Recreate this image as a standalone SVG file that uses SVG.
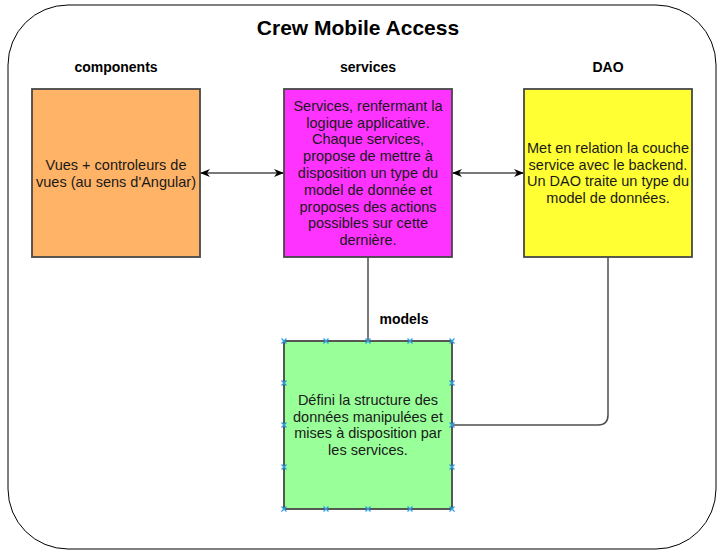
<svg xmlns="http://www.w3.org/2000/svg" width="728" height="556" viewBox="0 0 728 556">
  <style>
    .box { stroke: #474747; stroke-width: 1.8; }
    .txt { font-family: "Liberation Sans", Arial, sans-serif; font-size: 14.5px; fill: #1a1a1a; text-anchor: middle; }
    .hdr { font-family: "Liberation Sans", Arial, sans-serif; font-size: 14px; font-weight: bold; fill: #000; text-anchor: middle; }
    .title { font-family: "Liberation Sans", Arial, sans-serif; font-size: 21px; font-weight: bold; fill: #000; text-anchor: middle; }
    .conn { stroke: #4d4d4d; stroke-width: 1.5; fill: none; }
    .pt { stroke: #2f9fe8; stroke-width: 1.3; fill: none; }
  </style>
  <defs>
    <marker id="arr" viewBox="0 0 10 8" refX="10" refY="4" markerWidth="10" markerHeight="8" markerUnits="userSpaceOnUse" orient="auto-start-reverse">
      <path d="M0,0 L10,4 L0,8 L3,4 Z" fill="#000"/>
    </marker>
    <path id="x" d="M-2.5,-2.5 L2.5,2.5 M-2.5,2.5 L2.5,-2.5"/>
  </defs>
  <rect width="728" height="556" fill="#fff"/>
  <g id="container">
    <rect x="8" y="5" width="708" height="544" rx="60" ry="60" fill="#fff" stroke="#000" stroke-width="1"/>
    <text class="title" x="358" y="35">Crew Mobile Access</text>
  </g>
  <g id="connectors">
    <line class="conn" x1="200" y1="173" x2="284" y2="173" marker-start="url(#arr)" marker-end="url(#arr)"/>
    <line class="conn" x1="452" y1="173" x2="524" y2="173" marker-start="url(#arr)" marker-end="url(#arr)"/>
    <line class="conn" x1="368" y1="257" x2="368" y2="341"/>
    <path class="conn" d="M608,257 L608,415 Q608,425 598,425 L452,425"/>
  </g>
  <g id="components">
    <text class="hdr" x="116" y="72">components</text>
    <rect class="box" x="32" y="89" width="168" height="168" fill="#ffb366"/>
    <text class="txt" x="116" y="170">Vues + controleurs de</text>
    <text class="txt" x="116" y="187">vues (au sens d'Angular)</text>
  </g>
  <g id="services">
    <text class="hdr" x="368" y="72">services</text>
    <rect class="box" x="284" y="89" width="168" height="168" fill="#ff33ff"/>
    <text class="txt" x="368" y="110.8">Services, renfermant la</text>
    <text class="txt" x="368" y="127.6">logique applicative.</text>
    <text class="txt" x="368" y="144.4">Chaque services,</text>
    <text class="txt" x="368" y="161.2">propose de mettre à</text>
    <text class="txt" x="368" y="178">disposition un type du</text>
    <text class="txt" x="368" y="194.8">model de donnée et</text>
    <text class="txt" x="368" y="211.6">proposes des actions</text>
    <text class="txt" x="368" y="228.4">possibles sur cette</text>
    <text class="txt" x="368" y="245.2">dernière.</text>
  </g>
  <g id="dao">
    <text class="hdr" x="608" y="72">DAO</text>
    <rect class="box" x="524" y="89" width="168" height="168" fill="#ffff33"/>
    <text class="txt" x="608" y="152.8">Met en relation la couche</text>
    <text class="txt" x="608" y="169.6">service avec le backend.</text>
    <text class="txt" x="608" y="186.4">Un DAO traite un type du</text>
    <text class="txt" x="608" y="203.2">model de données.</text>
  </g>
  <g id="models">
    <text class="hdr" x="404" y="324">models</text>
    <rect class="box" x="284" y="341" width="168" height="168" fill="#99ff99"/>
    <text class="txt" x="368" y="404.8">Défini la structure des</text>
    <text class="txt" x="368" y="421.6">données manipulées et</text>
    <text class="txt" x="368" y="438.4">mises à disposition par</text>
    <text class="txt" x="368" y="455.2">les services.</text>
    <g class="pt">
      <use href="#x" x="284" y="341"/><use href="#x" x="326" y="341"/><use href="#x" x="368" y="341"/><use href="#x" x="410" y="341"/><use href="#x" x="452" y="341"/>
      <use href="#x" x="284" y="509"/><use href="#x" x="326" y="509"/><use href="#x" x="368" y="509"/><use href="#x" x="410" y="509"/><use href="#x" x="452" y="509"/>
      <use href="#x" x="284" y="383"/><use href="#x" x="284" y="425"/><use href="#x" x="284" y="467"/>
      <use href="#x" x="452" y="383"/><use href="#x" x="452" y="425"/><use href="#x" x="452" y="467"/>
    </g>
  </g>
</svg>
